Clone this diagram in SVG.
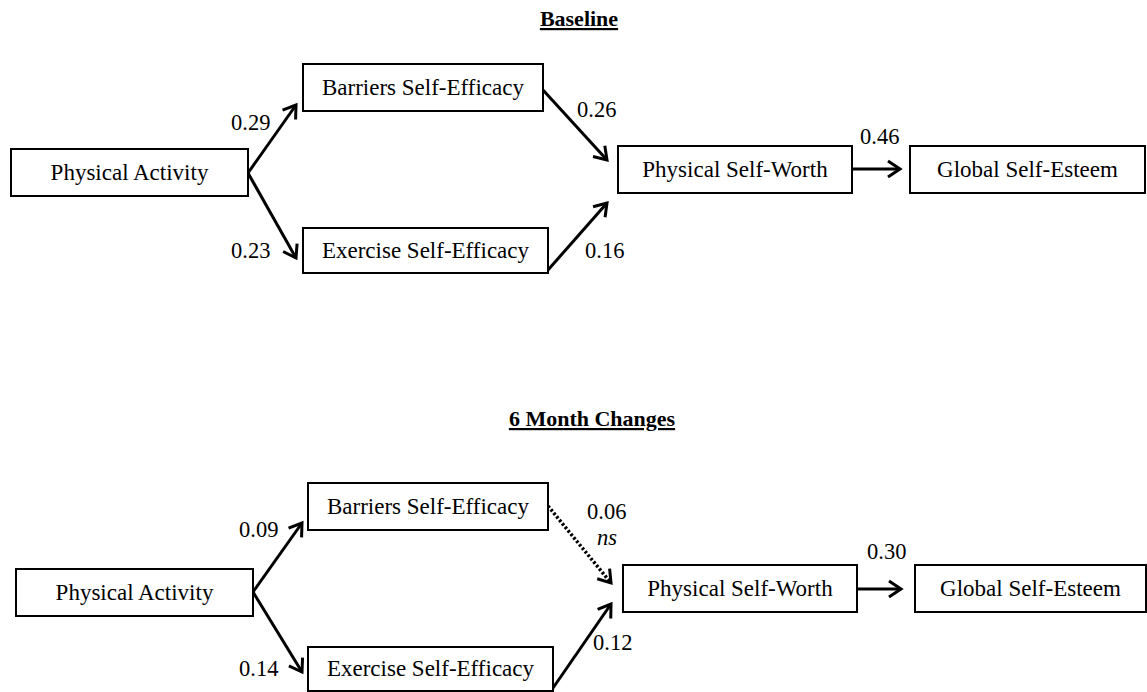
<svg xmlns="http://www.w3.org/2000/svg" width="1147" height="692" viewBox="0 0 1147 692">
<style>
.box{fill:#fff;stroke:#000;stroke-width:2}
.lbl{font-family:"Liberation Serif","Times New Roman",serif;font-size:23px;fill:#000;text-anchor:middle}
.num{font-family:"Liberation Serif","Times New Roman",serif;font-size:22.5px;fill:#000}
.title{font-family:"Liberation Serif","Times New Roman",serif;font-size:22px;font-weight:bold;fill:#000;text-anchor:middle;text-decoration:underline}
.edge{fill:none;stroke:#000;stroke-width:3}
.dot{fill:none;stroke:#000;stroke-width:3.5;stroke-dasharray:2.5 2}
</style>
<defs>
<marker id="arr" markerUnits="userSpaceOnUse" markerWidth="20" markerHeight="20" viewBox="-14 -10 16 20" refX="0" refY="0" orient="auto">
<path d="M-12,-8 L0,0 L-12,8" fill="none" stroke="#000" stroke-width="3"/>
</marker>
</defs>
<text class="title" x="579" y="26">Baseline</text>
<text class="title" x="592" y="426">6 Month Changes</text>
<g id="connectors">
<line class="edge" x1="248" y1="173" x2="296" y2="105" marker-end="url(#arr)"/>
<line class="edge" x1="248" y1="173" x2="296" y2="258" marker-end="url(#arr)"/>
<line class="edge" x1="543" y1="90" x2="607" y2="160" marker-end="url(#arr)"/>
<line class="edge" x1="548" y1="270" x2="607" y2="203" marker-end="url(#arr)"/>
<line class="edge" x1="852" y1="169" x2="900" y2="169" marker-end="url(#arr)"/>
<line class="edge" x1="253" y1="592" x2="302" y2="523" marker-end="url(#arr)"/>
<line class="edge" x1="253" y1="592" x2="302" y2="672" marker-end="url(#arr)"/>
<line class="dot" x1="548" y1="506" x2="611" y2="583" marker-end="url(#arr)"/>
<line class="edge" x1="553" y1="688" x2="611" y2="604" marker-end="url(#arr)"/>
<line class="edge" x1="857" y1="589" x2="901" y2="589" marker-end="url(#arr)"/>
<text class="num" x="231" y="130">0.29</text>
<text class="num" x="231" y="258">0.23</text>
<text class="num" x="577" y="117">0.26</text>
<text class="num" x="585" y="258">0.16</text>
<text class="num" x="860" y="144">0.46</text>
<text class="num" x="239" y="537">0.09</text>
<text class="num" x="239" y="676">0.14</text>
<text class="num" x="587" y="519">0.06</text>
<text class="num" x="597" y="545" font-style="italic">ns</text>
<text class="num" x="593" y="650">0.12</text>
<text class="num" x="867" y="559">0.30</text>
</g>
<g id="b-pa"><rect class="box" x="11" y="149" width="237" height="47"/><text class="lbl" x="129.5" y="180">Physical Activity</text></g>
<g id="b-bse"><rect class="box" x="303" y="64" width="240" height="47"/><text class="lbl" x="423" y="95">Barriers Self-Efficacy</text></g>
<g id="b-ese"><rect class="box" x="303" y="228" width="245" height="45"/><text class="lbl" x="425.5" y="258">Exercise Self-Efficacy</text></g>
<g id="b-psw"><rect class="box" x="618" y="146" width="234" height="47"/><text class="lbl" x="735" y="177">Physical Self-Worth</text></g>
<g id="b-gse"><rect class="box" x="910" y="146" width="235" height="47"/><text class="lbl" x="1027.5" y="177">Global Self-Esteem</text></g>
<g id="c-pa"><rect class="box" x="16" y="569" width="237" height="47"/><text class="lbl" x="134.5" y="600">Physical Activity</text></g>
<g id="c-bse"><rect class="box" x="308" y="483" width="240" height="47"/><text class="lbl" x="428" y="514">Barriers Self-Efficacy</text></g>
<g id="c-ese"><rect class="box" x="308" y="647" width="245" height="44"/><text class="lbl" x="430.5" y="676">Exercise Self-Efficacy</text></g>
<g id="c-psw"><rect class="box" x="623" y="565" width="234" height="47"/><text class="lbl" x="740" y="596">Physical Self-Worth</text></g>
<g id="c-gse"><rect class="box" x="915" y="565" width="231" height="47"/><text class="lbl" x="1030.5" y="596">Global Self-Esteem</text></g>
</svg>
